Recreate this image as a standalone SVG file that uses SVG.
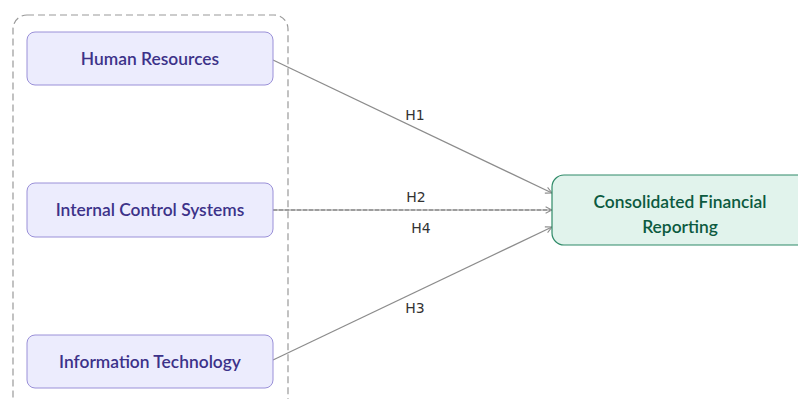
<svg xmlns="http://www.w3.org/2000/svg" width="798" height="399" viewBox="0 0 798 399">
  <style>
    .src rect { fill: #ececfd; stroke: #9a90d8; stroke-width: 1; }
    .src text { fill: #3c3289; font-family: Lato, "Open Sans", sans-serif; font-size: 17.4px; font-weight: 600; text-anchor: middle; }
    .dst rect { fill: #e1f3ec; stroke: #2f8a68; stroke-width: 1.2; }
    .dst text { fill: #0c5a40; font-family: Lato, "Open Sans", sans-serif; font-size: 17.4px; font-weight: 600; text-anchor: middle; }
    .edge { fill: none; stroke: #8c8c8c; stroke-width: 1.2; }
    .dashed { stroke-dasharray: 4 2; stroke: #777; }
    .lbl { fill: #333; font-family: "DejaVu Sans", Verdana, sans-serif; font-size: 14px; text-anchor: middle; }
    .cluster { fill: none; stroke: #999; stroke-width: 1.2; stroke-dasharray: 7 4; }
  </style>
  <defs>
    <marker id="arrow" viewBox="0 0 10 10" refX="9" refY="5" markerWidth="8" markerHeight="8" orient="auto" markerUnits="userSpaceOnUse">
      <path d="M1,1 L9,5 L1,9" fill="none" stroke="#8c8c8c" stroke-width="1.3"/>
    </marker>
  </defs>

  <rect width="798" height="399" fill="#ffffff"/>

  <!-- grouping of the three drivers -->
  <rect class="cluster" x="13" y="15" width="275" height="400" rx="14"/>

  <g id="connectors">
    <line class="edge" x1="273" y1="60" x2="552" y2="193" marker-end="url(#arrow)"/>
    <line class="edge" x1="273" y1="210" x2="552" y2="210" marker-end="url(#arrow)"/>
    <line class="edge dashed" x1="273" y1="210" x2="550" y2="210"/>
    <line class="edge" x1="273" y1="360" x2="552" y2="227" marker-end="url(#arrow)"/>
    <text class="lbl" x="415" y="120">H1</text>
    <text class="lbl" x="416" y="202">H2</text>
    <text class="lbl" x="421" y="233">H4</text>
    <text class="lbl" x="415" y="313">H3</text>
  </g>

  <g id="hr" class="src">
    <rect x="27" y="32" width="246" height="53" rx="8"/>
    <text x="150" y="65">Human Resources</text>
  </g>
  <g id="ics" class="src">
    <rect x="27" y="183" width="246" height="54" rx="8"/>
    <text x="150" y="216">Internal Control Systems</text>
  </g>
  <g id="it" class="src">
    <rect x="27" y="335" width="246" height="53" rx="8"/>
    <text x="150" y="368">Information Technology</text>
  </g>
  <g id="cfr" class="dst">
    <rect x="552" y="175" width="262" height="70" rx="12"/>
    <text x="680" y="208">Consolidated Financial</text>
    <text x="680" y="233">Reporting</text>
  </g>
</svg>
